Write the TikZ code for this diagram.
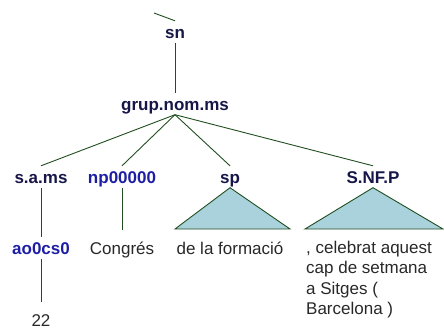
\documentclass[tikz,border=0pt]{standalone}
\usepackage{fontspec}
\setmainfont{Liberation Sans}
\usetikzlibrary{positioning}
\definecolor{edgegreen}{RGB}{32,78,32}
\definecolor{catnavy}{RGB}{22,22,72}
\definecolor{tagblue}{RGB}{30,30,165}
\definecolor{leafgray}{RGB}{40,40,40}
\definecolor{trifill}{RGB}{170,210,220}

\begin{document}
\begin{tikzpicture}[x=1pt, y=-1pt,
    cat/.style={font=\fontsize{17}{20.5}\selectfont\bfseries, text=catnavy, anchor=base,
                text height=12.5pt, text depth=0pt, inner sep=4.5pt},
    tag/.style={cat, text=tagblue},
    leaf/.style={font=\fontsize{17}{20.5}\selectfont, text=leafgray, anchor=base,
                 text height=12.5pt, text depth=0pt, inner xsep=0pt, inner ysep=11pt},
    phrase/.style={font=\fontsize{17}{20.5}\selectfont, text=leafgray, anchor=north west,
                   inner sep=0pt, align=left},
    branch/.style={draw=edgegreen, line width=0.9pt},
    tri/.style={branch, fill=trifill}
]
    \useasboundingbox (0,0) rectangle (444,329);
    % categories
    \node[cat] (sn) at (175,38) {sn};
    \node[cat] (grup) at (175,110) {grup.nom.ms};
    \foreach \name/\x/\txt in {sams/41/s.a.ms, sp/230/sp, snfp/373/S.NF.P} {
        \node[cat] (\name) at (\x,183) {\txt};
    }
    \node[tag] (np) at (122,183) {np00000};
    \node[tag] (ao) at (41,254) {ao0cs0};
    % words
    \node[leaf] (congres) at (122,254) {Congrés};
    \node[leaf] (num) at (41,326) {22};
    \node[leaf] (formacio) at (230,254) {de la formació};
    \node[phrase] (celebrat) at (306,240.5)
        {, celebrat aquest\\cap de setmana\\a Sitges (\\Barcelona )};
    % branches
    \coordinate (up) at (154,13);
    \draw[branch] (up) -- (sn.north);
    \draw[branch] (sn.south) -- (grup.north);
    \foreach \child in {sams, np, sp, snfp} {
        \draw[branch] (grup.south) -- (\child.north);
    }
    \draw[branch] (sams.south) -- (ao.north);
    \draw[branch] (ao.south) -- (num.north);
    \draw[branch] (np.south) -- (congres.north);
    % triangles
    \coordinate (spL) at (175,229);
    \coordinate (spR) at (290,229);
    \coordinate (snfpL) at (305,229);
    \coordinate (snfpR) at (443,229);
    \draw[tri] (sp.south) -- (spL) -- (spR) -- cycle;
    \draw[tri] (snfp.south) -- (snfpL) -- (snfpR) -- cycle;
\end{tikzpicture}
\end{document}
